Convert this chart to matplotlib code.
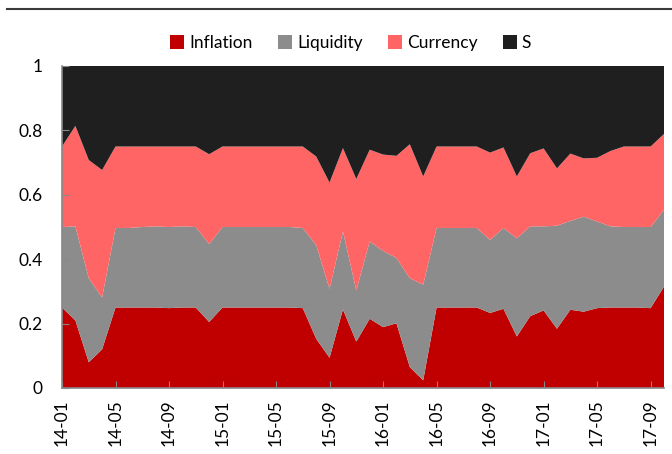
import matplotlib
matplotlib.use("Agg")
import matplotlib.pyplot as plt
from matplotlib.lines import Line2D
import numpy as np

plt.rcParams['font.family'] = ['Lato', 'DejaVu Sans']

months = [f"{y:02d}-{m:02d}" for y in range(14, 18) for m in range(1, 13)][:46]

inflation = [0.25, 0.21, 0.08, 0.12, 0.25, 0.25, 0.25, 0.25, 0.248, 0.25,
             0.25, 0.205, 0.25, 0.25, 0.25, 0.25, 0.25, 0.25, 0.248, 0.153,
             0.094, 0.244, 0.144, 0.215, 0.189, 0.201, 0.065, 0.024, 0.25, 0.25,
             0.25, 0.25, 0.233, 0.246, 0.16, 0.223, 0.241, 0.184, 0.243, 0.237,
             0.248, 0.25, 0.25, 0.25, 0.248, 0.315]
liq_cum = [0.5, 0.502, 0.341, 0.281, 0.497, 0.497, 0.5, 0.502, 0.5, 0.502,
           0.5, 0.447, 0.5, 0.5, 0.5, 0.5, 0.5, 0.5, 0.497, 0.444,
           0.308, 0.486, 0.303, 0.455, 0.426, 0.404, 0.341, 0.321, 0.497, 0.497,
           0.497, 0.497, 0.46, 0.497, 0.465, 0.502, 0.502, 0.504, 0.519, 0.532,
           0.517, 0.502, 0.5, 0.5, 0.5, 0.553]
cur_cum = [0.75, 0.814, 0.708, 0.677, 0.75, 0.75, 0.75, 0.75, 0.75, 0.75,
           0.75, 0.726, 0.75, 0.75, 0.75, 0.75, 0.75, 0.75, 0.75, 0.719,
           0.638, 0.745, 0.649, 0.74, 0.725, 0.721, 0.757, 0.657, 0.75, 0.75,
           0.75, 0.75, 0.731, 0.747, 0.657, 0.729, 0.744, 0.682, 0.728, 0.713,
           0.715, 0.736, 0.75, 0.75, 0.75, 0.789]

infl = np.array(inflation)
liq = np.array(liq_cum) - infl
cur = np.array(cur_cum) - np.array(liq_cum)
s = 1 - np.array(cur_cum)

labels = ["Inflation", "Liquidity", "Currency", "S"]
colors = ["#C00000", "#8C8C8C", "#FF6565", "#1F1F1F"]

fig = plt.figure(figsize=(6.72, 4.54), dpi=100)
ax = fig.add_axes([62/672, 1 - 388/454, (664-62)/672, (388-66)/454])
x = np.arange(len(months))
ax.stackplot(x, infl, liq, cur, s, colors=colors, labels=labels, linewidth=0)
ax.set_xlim(0, len(months) - 1)
ax.set_ylim(0, 1)
ax.set_yticks([0, 0.2, 0.4, 0.6, 0.8, 1.0])
ax.set_yticklabels(["0", "0.2", "0.4", "0.6", "0.8", "1"])
ticks = x[::4]
ax.set_xticks(ticks)
ax.set_xticklabels([months[i] for i in ticks], rotation=90)
ax.tick_params(axis='both', direction='in', length=5, color='#888888', labelsize=12.5, labelcolor='black')
ax.tick_params(axis='y', pad=14)
ax.tick_params(axis='x', pad=8)
for sp in ['top', 'right']:
    ax.spines[sp].set_visible(False)
for sp in ['left', 'bottom']:
    ax.spines[sp].set_color('#888888')
    ax.spines[sp].set_linewidth(1.2)
    ax.spines[sp].set_zorder(5)

leg = fig.legend(loc='center', bbox_to_anchor=(0.522, 1 - 43/454), ncol=4, frameon=False,
                 fontsize=12.5, handlelength=0.8, handleheight=0.8, handletextpad=0.3,
                 columnspacing=1.45)

fig.add_artist(Line2D([7/672, 1], [1 - 9/454, 1 - 9/454], color='#3a3a3a', linewidth=1.5,
                      transform=fig.transFigure))

fig.savefig("out.png", dpi=100)
